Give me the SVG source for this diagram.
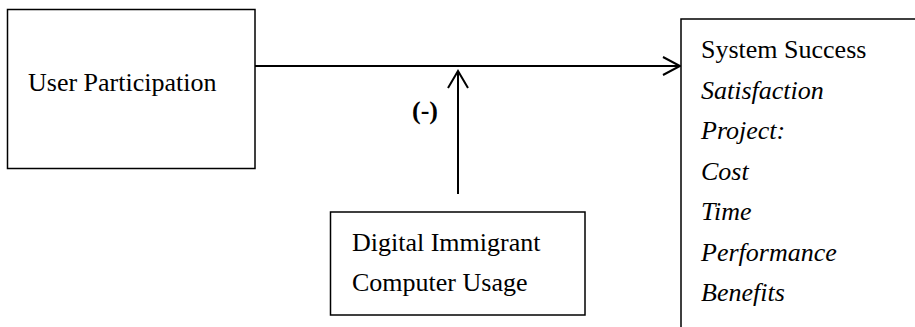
<svg xmlns="http://www.w3.org/2000/svg" width="915" height="327" viewBox="0 0 915 327">
  <style>
    .box { fill: #ffffff; stroke: #000000; stroke-width: 1.5; }
    .t { font-family: "Liberation Serif", "Times New Roman", serif; font-size: 26px; fill: #000000; }
    .i { font-style: italic; }
    .b { font-weight: bold; }
    .line { stroke: #000000; stroke-width: 2; fill: none; }
    .head { stroke: #000000; stroke-width: 2; fill: none; stroke-linejoin: miter; }
  </style>
  <rect width="915" height="327" fill="#ffffff"/>
  <g id="connectors">
    <line class="line" x1="255" y1="66" x2="680" y2="66"/>
    <polyline class="head" points="663,57 680,66 663,75"/>
    <line class="line" x1="458" y1="194" x2="458" y2="72"/>
    <polyline class="head" points="448,88 458,71 468,88"/>
    <text class="t b" x="412" y="119">(-)</text>
  </g>
  <g id="user-participation">
    <rect class="box" x="7.5" y="9.5" width="247.5" height="159"/>
    <text class="t" x="28" y="91">User Participation</text>
  </g>
  <g id="digital-immigrant">
    <rect class="box" x="330.5" y="212" width="254.5" height="103"/>
    <text class="t" x="352" y="251">Digital Immigrant</text>
    <text class="t" x="352" y="291">Computer Usage</text>
  </g>
  <g id="system-success">
    <rect class="box" x="681" y="19" width="260" height="330"/>
    <text class="t" x="701" y="58">System Success</text>
    <text class="t i" x="701" y="98.5">Satisfaction</text>
    <text class="t i" x="701" y="139">Project:</text>
    <text class="t i" x="701" y="179.5">Cost</text>
    <text class="t i" x="701" y="220">Time</text>
    <text class="t i" x="701" y="260.5">Performance</text>
    <text class="t i" x="701" y="301">Benefits</text>
  </g>
</svg>
